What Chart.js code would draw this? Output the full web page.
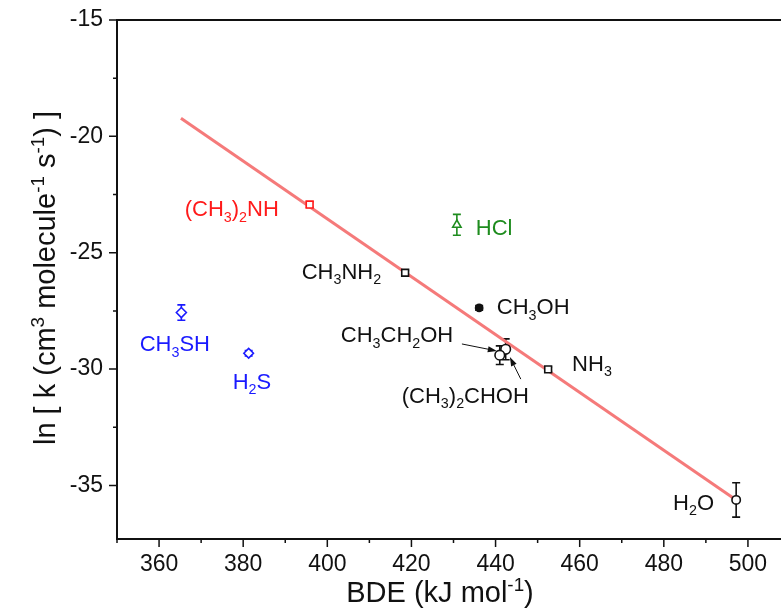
<!DOCTYPE html>
<html>
<head>
<meta charset="utf-8">
<script src="https://cdn.jsdelivr.net/npm/chart.js@4"></script>
<style>
  html, body { margin: 0; padding: 0; background: #fff; overflow: hidden; }
  #wrap { width: 800px; height: 612px; position: relative; }
</style>
</head>
<body>
<div id="wrap"><canvas id="chart"></canvas></div>
<script>
// compounds, BDE (kJ/mol), ln k and its error
const compounds = ['(CH_3)_2NH', 'CH_3NH_2', 'HCl', 'CH_3OH', 'CH_3CH_2OH', '(CH_3)_2CHOH', 'NH_3', 'H_2O', 'CH_3SH', 'H_2S'];
const bde    = [395.8, 418.5, 430.8, 436.1, 441.0, 442.4, 452.5, 497.2, 365.3, 381.3];
const lnK    = [-22.93, -25.86, -23.8, -27.37, -29.4, -29.15, -30.01, -35.62, -27.57, -29.32];
const lnKErr = [0.12, 0.1, 0.45, 0.1, 0.4, 0.45, 0.1, 0.74, 0.33, 0.12];

// where each name is written (left edge of text, middle of capitals)
const labelX = [366.1, 393.9, 435.3, 440.3, 403.2, 417.7, 458.2, 482.2, 355.4, 377.5];
const labelY = [-23.1, -25.78, -23.9, -27.3, -28.5, -31.1, -29.74, -35.7, -28.9, -30.5];

// linear fit
const fitBde = [365.2, 497.2];
const fitLnK = [-19.22, -35.62];

const xTickLabels = [360, 380, 400, 420, 440, 460, 480, 500];
const yTickLabels = [-15, -20, -25, -30, -35];

const RED = '#ff1a1a', GREEN = '#1e8c1e', BLUE = '#1a1aff', BLACK = '#111';
const markerColor = [RED, BLACK, GREEN, BLACK, BLACK, BLACK, BLACK, BLACK, BLUE, BLUE];
const markerStyle = ['rect', 'rect', 'triangle', 'circle', 'circle', 'circle', 'rect', 'circle', 'rectRot', 'rectRot'];
const markerSize  = [4.8, 4.8, 4.8, 3.6, 4.8, 4.8, 4.8, 4.2, 5, 4.8];
const markerFill  = ['#fff', '#fff', '#fff', BLACK, '#fff', '#fff', '#fff', '#fff', '#fff', '#fff'];

const FONT = '"Liberation Sans", Arial, sans-serif';
Chart.defaults.font.family = FONT;

// text with _sub and ^sup parts
function richParts(str) {
  const parts = [];
  let i = 0;
  while (i < str.length) {
    const c = str[i];
    if (c === '_' || c === '^') {
      let t;
      if (str[i + 1] === '{') {
        const j = str.indexOf('}', i);
        t = str.slice(i + 2, j);
        i = j + 1;
      } else {
        t = str[i + 1];
        i += 2;
      }
      parts.push({ t, mode: c === '_' ? 'sub' : 'sup' });
    } else {
      let j = i;
      while (j < str.length && str[j] !== '_' && str[j] !== '^') j++;
      parts.push({ t: str.slice(i, j), mode: 'base' });
      i = j;
    }
  }
  return parts;
}

function drawRich(ctx, str, x, y, size, color, align) {
  const parts = richParts(str);
  const small = size * 0.65;
  let w = 0;
  parts.forEach(p => {
    ctx.font = (p.mode === 'base' ? size : small) + 'px ' + FONT;
    p.w = ctx.measureText(p.t).width;
    w += p.w;
  });
  let cx = align === 'center' ? x - w / 2 : align === 'right' ? x - w : x;
  ctx.fillStyle = color;
  ctx.textAlign = 'left';
  ctx.textBaseline = 'alphabetic';
  const base = y + size * 0.36;
  parts.forEach(p => {
    ctx.font = (p.mode === 'base' ? size : small) + 'px ' + FONT;
    const dy = p.mode === 'sub' ? size * 0.25 : p.mode === 'sup' ? -size * 0.38 : 0;
    ctx.fillText(p.t, cx, base + dy);
    cx += p.w;
  });
}

function arrow(ctx, x1, y1, x2, y2) {
  const a = Math.atan2(y2 - y1, x2 - x1);
  ctx.strokeStyle = BLACK;
  ctx.fillStyle = BLACK;
  ctx.lineWidth = 1;
  ctx.beginPath();
  ctx.moveTo(x1, y1);
  ctx.lineTo(x2 - 6 * Math.cos(a), y2 - 6 * Math.sin(a));
  ctx.stroke();
  ctx.beginPath();
  ctx.moveTo(x2, y2);
  ctx.lineTo(x2 - 9 * Math.cos(a) + 3 * Math.sin(a), y2 - 9 * Math.sin(a) - 3 * Math.cos(a));
  ctx.lineTo(x2 - 9 * Math.cos(a) - 3 * Math.sin(a), y2 - 9 * Math.sin(a) + 3 * Math.cos(a));
  ctx.closePath();
  ctx.fill();
}

const errorBars = {
  id: 'errorBars',
  beforeDatasetsDraw(chart) {
    const { ctx, scales: { x, y } } = chart;
    ctx.save();
    ctx.lineWidth = 1.6;
    compounds.forEach((c, i) => {
      const px = x.getPixelForValue(bde[i]);
      const top = y.getPixelForValue(lnK[i] + lnKErr[i]);
      const bot = y.getPixelForValue(lnK[i] - lnKErr[i]);
      ctx.strokeStyle = markerColor[i];
      ctx.beginPath();
      ctx.moveTo(px, top); ctx.lineTo(px, bot);
      ctx.moveTo(px - 4, top); ctx.lineTo(px + 4, top);
      ctx.moveTo(px - 4, bot); ctx.lineTo(px + 4, bot);
      ctx.stroke();
    });
    ctx.restore();
  }
};

const frame = {
  id: 'frame',
  afterDraw(chart) {
    const { ctx, chartArea: a, scales: { x, y } } = chart;
    ctx.save();
    ctx.strokeStyle = BLACK;
    ctx.lineWidth = 2;
    ctx.beginPath();
    ctx.moveTo(a.right, a.top); ctx.lineTo(a.left, a.top);
    ctx.lineTo(a.left, a.bottom); ctx.lineTo(a.right, a.bottom);
    ctx.stroke();
    ctx.lineWidth = 1.5;
    ctx.beginPath();
    for (let v = 350; v <= 510; v += 10) {
      const px = x.getPixelForValue(v);
      const len = v % 20 === 0 ? 8 : 4;
      ctx.moveTo(px, a.bottom); ctx.lineTo(px, a.bottom + len);
    }
    for (let v = -15; v >= -37.3; v -= 2.5) {
      const py = y.getPixelForValue(v);
      const len = v % 5 === 0 ? 8 : 4;
      ctx.moveTo(a.left, py); ctx.lineTo(a.left - len, py);
    }
    ctx.stroke();

    // compound names
    compounds.forEach((c, i) => {
      drawRich(ctx, c, x.getPixelForValue(labelX[i]), y.getPixelForValue(labelY[i]), 22, markerColor[i], 'left');
    });
    arrow(ctx, x.getPixelForValue(432.0), y.getPixelForValue(-28.92), x.getPixelForValue(440.3), y.getPixelForValue(-29.22));
    arrow(ctx, x.getPixelForValue(446.0), y.getPixelForValue(-30.43), x.getPixelForValue(443.4), y.getPixelForValue(-29.48));

    // axis titles
    drawRich(ctx, 'BDE (kJ mol^{-1})', 440, 592, 29, BLACK, 'center');
    ctx.translate(45, 278);
    ctx.rotate(-Math.PI / 2);
    drawRich(ctx, 'ln [ k (cm^3 molecule^{-1} s^{-1}) ]', 0, 0, 29, BLACK, 'center');
    ctx.restore();
  }
};

const pointSets = compounds.map((name, i) => ({
  label: name,
  data: [{ x: bde[i], y: lnK[i] }],
  pointStyle: markerStyle[i],
  pointRadius: markerSize[i],
  borderColor: markerColor[i],
  backgroundColor: markerFill[i],
  pointBorderWidth: 1.6,
  showLine: false,
  order: 0
}));

const fitSet = {
  label: 'fit',
  type: 'line',
  data: fitBde.map((v, i) => ({ x: v, y: fitLnK[i] })),
  borderColor: '#f57a7a',
  borderWidth: 3,
  pointRadius: 0,
  order: 1
};

new Chart(document.getElementById('chart'), {
  type: 'scatter',
  data: { datasets: [...pointSets, fitSet] },
  options: {
    responsive: true,
    maintainAspectRatio: false,
    animation: false,
    layout: { padding: { top: 20, right: 10, left: 0, bottom: 0 } },
    plugins: { legend: { display: false }, tooltip: { enabled: false } },
    scales: {
      x: {
        type: 'linear', min: 350, max: 510,
        grid: { display: false, drawTicks: false },
        border: { display: false },
        ticks: {
          stepSize: 10, padding: 12, color: '#111', maxRotation: 0, autoSkip: false,
          font: { size: 23 },
          callback: v => xTickLabels.includes(v) ? v : ''
        },
        afterFit: s => { s.height = 73; s.paddingLeft = 0; s.paddingRight = 0; }
      },
      y: {
        type: 'linear', min: -37.3, max: -15,
        grid: { display: false, drawTicks: false },
        border: { display: false },
        ticks: {
          stepSize: 2.5, padding: 14, color: '#111', autoSkip: false,
          font: { size: 23 },
          callback: v => yTickLabels.includes(v) ? v : ''
        },
        afterFit: s => { s.width = 117; s.paddingTop = 0; s.paddingBottom = 0; }
      }
    }
  },
  plugins: [errorBars, frame]
});
</script>
</body>
</html>
